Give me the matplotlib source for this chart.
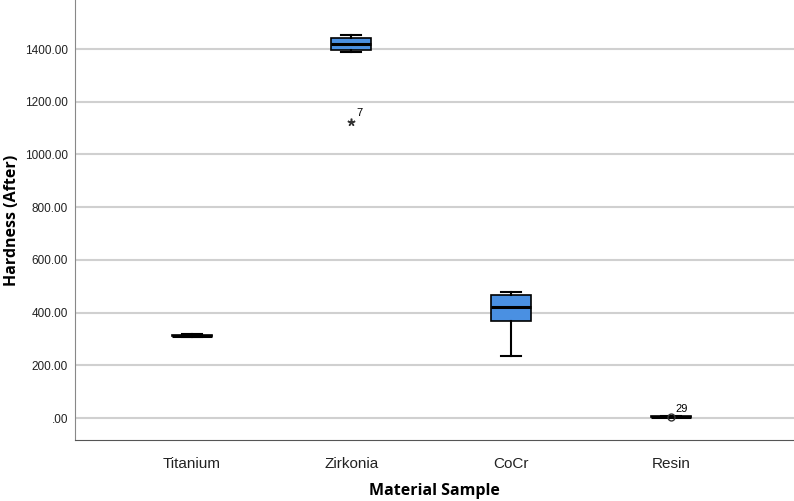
import numpy as np
import matplotlib
matplotlib.use("Agg")
import matplotlib.pyplot as plt

# values
materials = ["Titanium", "Zirkonia", "CoCr", "Resin"]
whisker_low = [308, 1390, 235, 3]
q1 = [310, 1395, 368, 4]
median = [313, 1420, 420, 5]
q3 = [316, 1440, 467, 7]
whisker_high = [318, 1455, 477, 8]
outliers = [[], [1125], [], [3]]
outlier_ids = [[], ["7"], [], ["29"]]
outlier_kind = [None, "extreme", None, "mild"]
y_ticks = [0, 200, 400, 600, 800, 1000, 1200, 1400]
y_tick_labels = [".00", "200.00", "400.00", "600.00", "800.00", "1000.00", "1200.00", "1400.00"]

fig = plt.figure(figsize=(7.94, 5.01), dpi=100)
ax = fig.add_axes([0.0945, 0.122, 0.9055, 0.878])

positions = np.arange(1, len(materials) + 1)
stats = []
for i, name in enumerate(materials):
	stats.append(dict(label=name, whislo=whisker_low[i], q1=q1[i], med=median[i],
					  q3=q3[i], whishi=whisker_high[i], fliers=[]))

ax.bxp(stats, positions=positions, widths=0.25, patch_artist=True, showfliers=False,
	   boxprops=dict(facecolor="#4A90E2", edgecolor="black", linewidth=1.2),
	   medianprops=dict(color="black", linewidth=2.2),
	   whiskerprops=dict(color="black", linewidth=1.5),
	   capprops=dict(color="black", linewidth=1.5),
	   capwidths=0.125, zorder=3)

# outliers: star for extreme, circle for mild, with case numbers
for i in range(len(materials)):
	for val, lab in zip(outliers[i], outlier_ids[i]):
		if outlier_kind[i] == "extreme":
			ax.plot(positions[i], val, marker=(5, 2, 0), color="#333333", markersize=5.5,
					markeredgewidth=1.1, zorder=4)
			ax.text(positions[i] + 0.03, val + 22, lab, fontsize=8, family="Liberation Sans")
		else:
			ax.plot(positions[i], val, marker="o", mfc="none", mec="#333333", markersize=5, zorder=4)
			ax.text(positions[i] + 0.03, val + 18, lab, fontsize=8, family="Liberation Sans")

ax.set_xlim(0.27, 4.77)
ax.set_ylim(-83, 1586)
ax.set_yticks(y_ticks)
ax.set_yticklabels(y_tick_labels, family="Liberation Sans", fontsize=8.5, color="#222222")
ax.set_xticks(positions)
ax.set_xticklabels(materials, family="Liberation Sans", fontsize=11, color="#222222")
ax.tick_params(length=0, pad=12)
ax.tick_params(axis="y", pad=5)
ax.yaxis.grid(True, color="#d0d0d0", linewidth=1.5, zorder=0)
ax.set_axisbelow(True)

for s in ["top", "right"]:
	ax.spines[s].set_visible(False)
ax.spines["left"].set_color("#888888")
ax.spines["bottom"].set_color("#555555")

ax.set_ylabel("Hardness (After)", fontsize=11.5, fontweight="bold", family="Open Sans")
ax.yaxis.set_label_coords(-0.076, 0.5)
ax.set_xlabel("Material Sample", fontsize=11.5, fontweight="bold", family="Open Sans", labelpad=9)

fig.savefig("out.png", dpi=100)
